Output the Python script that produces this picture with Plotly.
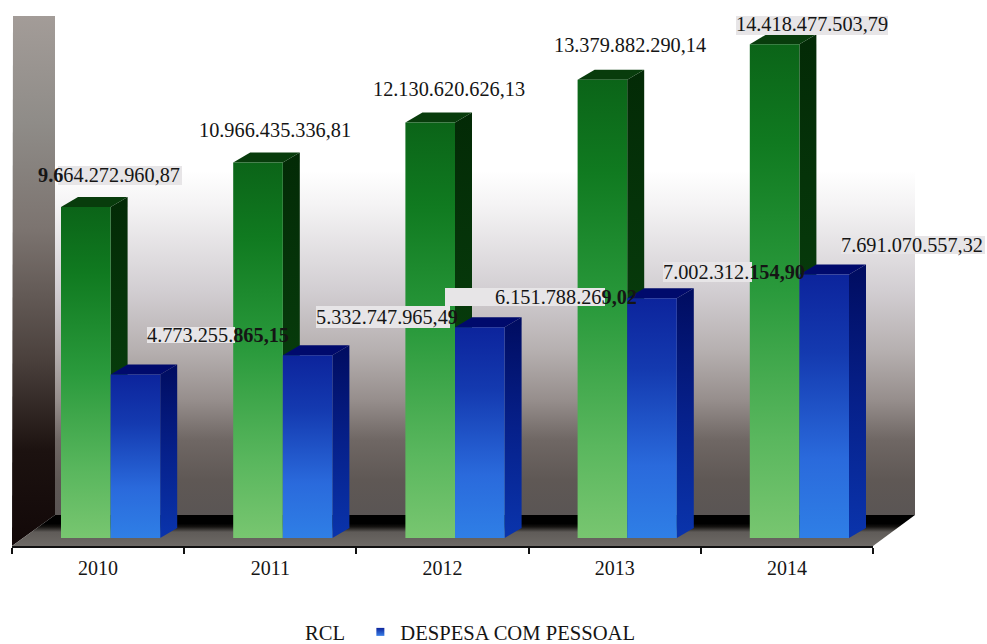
import plotly.graph_objects as go

YEARS = ["2010", "2011", "2012", "2013", "2014"]
RCL = [9664272960.87, 10966435336.81, 12130620626.13, 13379882290.14, 14418477503.79]
DESPESA = [4773255865.15, 5332747965.49, 6151788269.02, 7002312154.90, 7691070557.32]

# image size and pixel scale of the axes
W, H = 987, 644
X0_PX, CAT_PX = 12, 172.2
Y0_PX, PX_PER_VALUE = 538, 34.25e-9
AXIS_PX = 547

FONT = "Liberation Serif"


def xv(px):
    return (px - X0_PX) / CAT_PX


def yv(px):
    return (Y0_PX - px) / PX_PER_VALUE


def br(value):
    # 9664272960.87 -> 9.664.272.960,87
    return f"{value:,.2f}".replace(",", "#").replace(".", ",").replace("#", ".")


def poly(fig, xs, ys, scale, start, stop):
    fig.add_trace(go.Scatter(
        x=xs + xs[:1], y=ys + ys[:1],
        mode="lines", line={"width": 0}, fill="toself",
        fillgradient={"type": "vertical", "colorscale": scale, "start": start, "stop": stop},
        hoverinfo="skip", showlegend=False,
    ))


def flat(color):
    return [[0, color], [1, color]]


fig = go.Figure()

# back wall
poly(fig, [xv(55), xv(915), xv(915), xv(55)], [yv(515), yv(515), yv(16), yv(16)],
     [[0, "#5a5554"], [0.07, "#5f5855"], [0.15, "#6f6764"], [0.23, "#968e8c"], [0.33, "#b6b0b0"], [0.45, "#d2ced2"],
      [0.62, "#f4f3f4"], [0.69, "#ffffff"], [1, "#ffffff"]], yv(515), yv(16))
# left wall
poly(fig, [xv(13), xv(55), xv(55), xv(12)], [yv(16), yv(16), yv(515), yv(546)],
     [[0, "#120808"], [0.18, "#1c1210"], [0.35, "#4a403c"], [0.6, "#7c7470"], [0.8, "#8f8c88"], [1, "#a39c98"]],
     yv(546), yv(16))
# floor, with the black shadow along the wall
poly(fig, [xv(55), xv(915), xv(873), xv(12)], [yv(515), yv(515), yv(546), yv(546)],
     [[0, "#6e6a66"], [0.45, "#5f5b58"], [0.62, "#141210"], [0.72, "#000000"], [1, "#000000"]], yv(546), yv(515))

# bar geometry in category units / pixels
BAR_OFFSET = 49 / CAT_PX
BAR_WIDTH = 49.6 / CAT_PX
DEPTH_X = 17 / CAT_PX
DEPTH_Y = 10 / PX_PER_VALUE

GREEN_FRONT = [[0, "#78c670"], [0.2, "#5ab75e"], [0.5, "#2a9a3c"], [0.8, "#107a20"], [1, "#0b6418"]]
GREEN_SIDE = [[0, "#0a4a10"], [1, "#032a06"]]
GREEN_TOP = flat("#083c0c")
BLUE_FRONT = [[0, "#2f7fe6"], [0.3, "#2a6adc"], [0.7, "#143ab0"], [1, "#0c249c"]]
BLUE_SIDE = [[0, "#0a34ac"], [0.5, "#06208a"], [1, "#000c60"]]
BLUE_TOP = flat("#000a6c")

for i in range(len(YEARS)):
    for j, (value, front, side, top) in enumerate([
        (RCL[i], GREEN_FRONT, GREEN_SIDE, GREEN_TOP),
        (DESPESA[i], BLUE_FRONT, BLUE_SIDE, BLUE_TOP),
    ]):
        x1 = i + BAR_OFFSET + j * BAR_WIDTH
        x2 = x1 + BAR_WIDTH
        poly(fig, [x2, x2 + DEPTH_X, x2 + DEPTH_X, x2], [0, DEPTH_Y, value + DEPTH_Y, value], side, 0, value + DEPTH_Y)
        poly(fig, [x1, x2, x2 + DEPTH_X, x1 + DEPTH_X], [value, value, value + DEPTH_Y, value + DEPTH_Y], top,
             value, value + DEPTH_Y)
        poly(fig, [x1, x2, x2, x1], [0, 0, value, value], front, 0, value)

# category axis: ticks on the boundaries, labels in the middle
fig.add_trace(go.Scatter(x=YEARS, y=[0] * 5, xaxis="x2", yaxis="y", mode="markers", marker={"opacity": 0},
                         hoverinfo="skip", showlegend=False))

# legend entries
fig.add_trace(go.Scatter(x=[None], y=[None], name="RCL&nbsp;&nbsp;", mode="markers",
                         marker={"symbol": "square", "size": 8, "color": "rgba(255,255,255,0)"}))
fig.add_trace(go.Scatter(x=[None], y=[None], name="DESPESA COM PESSOAL", mode="markers",
                         marker={"symbol": "square", "size": 8, "color": "#0c249c",
                                 "gradient": {"type": "vertical", "color": "#3a80e8"}}))

# data labels: left px, centre px, bold from / to (characters)
RCL_LABEL_POS = [(38, 175), (199, 130), (373, 89), (554, 45), (736, 24)]
RCL_BOLD = [(0, 3), None, None, None, None]
DESP_LABEL_POS = [(147, 335), (316, 317), (495, 297), (663, 272), (841, 245)]
DESP_BOLD = [(10, 16), (15, 16), (12, 16), (10, 16), None]
# grey boxes behind the labels: x0, x1, y0, y1
LABEL_BOXES = [(58, 182, 166, 185), (736, 888, 16, 35), (147, 235, 327, 343), (316, 450, 306, 328),
               (445, 605, 288, 306), (663, 752, 262, 282), (841, 985, 236, 254)]
BOX_COLOR = "#e7e5e7"

for x0, x1, y0, y1 in LABEL_BOXES:
    fig.add_shape(type="rect", xref="paper", yref="paper", x0=x0 / W, x1=x1 / W, y0=1 - y0 / H, y1=1 - y1 / H,
                  fillcolor=BOX_COLOR, line={"width": 0}, layer="above")

for values, positions, bolds in [(RCL, RCL_LABEL_POS, RCL_BOLD), (DESPESA, DESP_LABEL_POS, DESP_BOLD)]:
    for value, (px, py), bold in zip(values, positions, bolds):
        text = br(value)
        if bold:
            text = f"{text[:bold[0]]}<b>{text[bold[0]:bold[1]]}</b>{text[bold[1]:]}"
        fig.add_annotation(x=px / W, y=1 - py / H, xref="paper", yref="paper", text=text, showarrow=False,
                           xanchor="left", yanchor="middle", borderpad=0, borderwidth=0,
                           font={"family": FONT, "size": 20.3, "color": "#151515"})

fig.update_layout(
    width=W, height=H, margin={"l": 0, "r": 0, "t": 0, "b": 0, "autoexpand": False},
    paper_bgcolor="white", plot_bgcolor="rgba(0,0,0,0)", hovermode=False,
    font={"family": FONT, "size": 20, "color": "#151515"},
    xaxis={"range": [xv(0), xv(W)], "visible": False},
    yaxis={"range": [yv(H), yv(0)], "visible": False},
    xaxis2={"type": "category", "categoryorder": "array", "categoryarray": YEARS, "range": [-0.5, 4.5],
            "domain": [X0_PX / W, (X0_PX + 5 * CAT_PX) / W], "anchor": "free",
            "position": 1 - AXIS_PX / H, "side": "bottom", "tickson": "boundaries", "ticks": "outside",
            "ticklen": 6, "tickwidth": 1.5, "tickcolor": "#111111", "showline": True, "linecolor": "#111111",
            "linewidth": 1.5, "showgrid": False, "zeroline": False, "ticklabelstandoff": 3,
            "tickfont": {"family": FONT, "size": 20, "color": "#151515"}},
    legend={"orientation": "h", "x": 265 / W, "y": 1 - 632 / H, "xanchor": "left", "yanchor": "middle",
            "bgcolor": "rgba(0,0,0,0)", "font": {"family": FONT, "size": 20.6, "color": "#151515"},
            "itemwidth": 30, "traceorder": "normal"},
)

# the page must start at the corner, without the default body margin
fig.write_html("out.html", config={"displayModeBar": False}, post_script="document.body.style.margin = '0';")
